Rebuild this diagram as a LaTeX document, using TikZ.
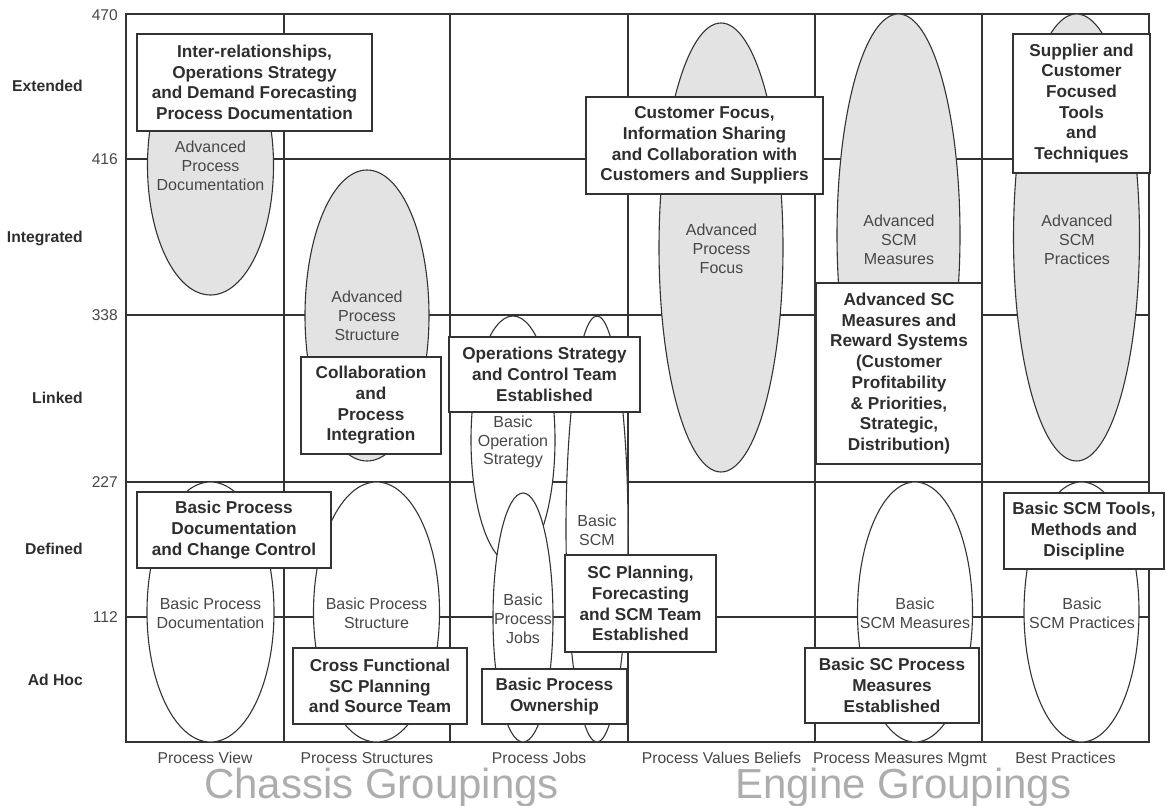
\documentclass[tikz,border=0pt]{standalone}
\usepackage{fontspec}
\setmainfont{Liberation Sans}
\usetikzlibrary{shapes.geometric}
\definecolor{ln}{HTML}{333333}
\definecolor{fillg}{HTML}{E3E3E3}
\definecolor{txt}{HTML}{2E2E2E}
\definecolor{etxt}{HTML}{474747}
\definecolor{groupc}{HTML}{ADADAD}
\begin{document}
\begin{tikzpicture}[x=1pt,y=-1pt,
  gridline/.style={draw=ln,line width=1.3pt},
  oval/.style 2 args={ellipse,draw=ln,line width=1.1pt,inner sep=0pt,minimum width=#1pt,minimum height=#2pt},
  adv/.style 2 args={oval={#1}{#2},fill=fillg},
  basic/.style 2 args={oval={#1}{#2},fill=white},
  elabel/.style={align=center,text=etxt,font=\fontsize{16}{18.8}\selectfont,inner sep=0pt},
  boxwh/.style 2 args={draw=ln,line width=1.2pt,fill=white,align=center,text=txt,
     font=\fontsize{17.2}{20.7}\selectfont\bfseries,inner sep=0pt,minimum width=#1pt,minimum height=#2pt},
  ylab/.style={anchor=base east,text=txt,font=\fontsize{15.7}{18}\selectfont\bfseries,inner sep=0pt},
  ynum/.style={anchor=base east,text=etxt,font=\fontsize{15.6}{18}\selectfont,inner sep=0pt},
  xlab/.style={anchor=base,text=etxt,font=\fontsize{15.7}{18}\selectfont,inner sep=0pt},
  grp/.style={anchor=base west,text=groupc,font=\fontsize{42}{48}\selectfont,inner sep=0pt}
]
\useasboundingbox (0,0) rectangle (1166,805);
% grid
\draw[gridline] (126,14) rectangle (1149,742);
\foreach \x in {284,450,628,815,982} \draw[gridline] (\x,14) -- (\x,742);
\foreach \y in {159,315,482,617} \draw[gridline] (126,\y) -- (1149,\y);
% y-axis
\node[ynum] (n470) at (118,20.6) {470};
\node[ynum] (n416) at (118,164.6) {416};
\node[ynum] (n338) at (118,320.6) {338};
\node[ynum] (n227) at (118,487.6) {227};
\node[ynum] (n112) at (118,622.6) {112};
\node[ylab] (lext) at (83,91.6) {Extended};
\node[ylab] (lint) at (83,242.6) {Integrated};
\node[ylab] (llnk) at (83,403.6) {Linked};
\node[ylab] (ldef) at (83,554.6) {Defined};
\node[ylab] (ladh) at (83,685.6) {Ad Hoc};
% x-axis
\node[xlab] (x1) at (205,763) {Process View};
\node[xlab] (x2) at (367,763) {Process Structures};
\node[xlab] (x3) at (539,763) {Process Jobs};
\node[xlab] (x4) at (721.5,763) {Process Values Beliefs};
\node[xlab] (x5) at (900,763) {Process Measures Mgmt};
\node[xlab] (x6) at (1065.5,763) {Best Practices};
\node[grp] (chassis) at (204,798) {Chassis Groupings};
\node[grp] (engine) at (735,798) {Engine Groupings};
% advanced ellipses
\node[adv={126}{259}] (e1) at (210.5,165.5) {};
\node[adv={124}{291}] (e2) at (367,315.5) {};
\node[adv={124}{449}] (e3) at (721,247.5) {};
\node[adv={123}{442}] (e4) at (898.5,235) {};
\node[adv={126}{447}] (e5) at (1076.5,237.5) {};
% basic ellipses
\node[basic={127}{260}] (e6) at (210.5,612) {};
\node[basic={126}{260}] (e7) at (376.5,612) {};
\node[basic={84}{248}] (e8) at (513,440) {};
\node[basic={60}{249}] (e9) at (523,617.5) {};
\node[basic={62}{426}] (e10) at (597,529) {};
\node[basic={115}{260}] (e11) at (915,612) {};
\node[basic={115}{260}] (e12) at (1081.5,612) {};
% ellipse labels
\node[elabel] (t1) at (210.5,166) {Advanced\\Process\\Documentation};
\node[elabel] (t2) at (367,316) {Advanced\\Process\\Structure};
\node[elabel] (t3) at (721.5,249) {Advanced\\Process\\Focus};
\node[elabel] (t4) at (899,239.5) {Advanced\\SCM\\Measures};
\node[elabel] (t5) at (1077,239.5) {Advanced\\SCM\\Practices};
\node[elabel] (t6) at (210.5,613.5) {Basic Process\\Documentation};
\node[elabel] (t7) at (376.5,613.5) {Basic Process\\Structure};
\node[elabel] (t8) at (513,442) {Basic\\Operation\\Strategy};
\node[elabel] (t9) at (523,619) {Basic\\Process\\Jobs};
\node[elabel] (t10) at (597,530.5) {Basic\\SCM};
\node[elabel] (t11) at (915,613.5) {Basic\\SCM Measures};
\node[elabel] (t12) at (1082,613.5) {Basic\\SCM Practices};
% boxes
\node[boxwh={235}{97}] (b1) at (254.5,82.5) {Inter-relationships,\\Operations Strategy\\and Demand Forecasting\\Process Documentation};
\node[boxwh={237}{97}] (b2) at (704.5,145.5) {Customer Focus,\\Information Sharing\\and Collaboration with\\Customers and Suppliers};
\node[boxwh={137}{139}] (b3) at (1081.5,103.5) {Supplier and\\Customer\\Focused\\Tools\\and\\Techniques};
\node[boxwh={140}{97}] (b4) at (371,405.5) {Collaboration\\and\\Process\\Integration};
\node[boxwh={191}{75}] (b5) at (544.5,374.5) {Operations Strategy\\and Control Team\\Established};
\node[boxwh={166}{181}] (b6) at (899,373.5) {Advanced SC\\Measures and\\Reward Systems\\(Customer\\Profitability\\\& Priorities,\\Strategic,\\Distribution)};
\node[boxwh={194}{76}] (b7) at (234,530) {Basic Process\\Documentation\\and Change Control};
\node[boxwh={151}{97}] (b8) at (640.5,603.5) {SC Planning,\\Forecasting\\and SCM Team\\Established};
\node[boxwh={174}{76}] (b9) at (380,686) {Cross Functional\\SC Planning\\and Source Team};
\node[boxwh={145}{55}] (b10) at (554.5,696.5) {Basic Process\\Ownership};
\node[boxwh={174}{75}] (b11) at (892,685.5) {Basic SC Process\\Measures\\Established};
\node[boxwh={160}{76}] (b12) at (1084,531) {Basic SCM Tools,\\Methods and\\Discipline};
\end{tikzpicture}
\end{document}
